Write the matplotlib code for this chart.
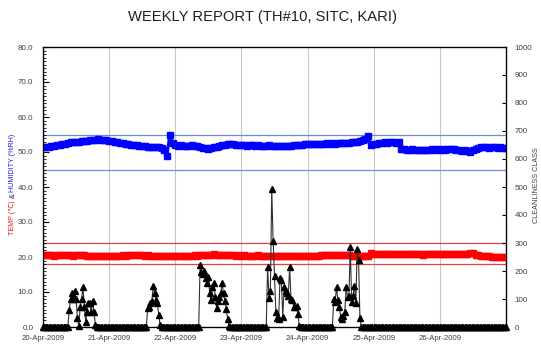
import numpy as np
import matplotlib
matplotlib.use("Agg")
import matplotlib.pyplot as plt
from matplotlib.ticker import MultipleLocator, FormatStrFormatter

plt.rcParams['font.family'] = ['Liberation Sans', 'DejaVu Sans']

# ---------------- data ----------------
title = "WEEKLY REPORT (TH#10, SITC, KARI)"
date_labels = ["20-Apr-2009", "21-Apr-2009", "22-Apr-2009", "23-Apr-2009",
               "24-Apr-2009", "25-Apr-2009", "26-Apr-2009"]

# hourly humidity (%RH), hours 0..168 from 20-Apr 00:00
humidity = [
    51.3, 51.4, 51.4, 51.6, 51.7, 51.9, 52.0, 52.2, 52.4, 52.6,
    52.9, 52.8, 53.0, 53.0, 53.1, 53.1, 53.2, 53.3, 53.4, 53.4,
    53.6, 53.5, 53.4, 53.3, 53.2, 53.1, 52.9, 52.8, 52.6, 52.5,
    52.3, 52.2, 52.1, 52.0, 51.9, 51.8, 51.6, 51.6, 51.5, 51.5,
    51.4, 51.3, 51.3, 51.2, 50.6, 49.0, 54.9, 52.6,
    51.9, 51.8, 51.9, 51.8, 51.7, 51.8, 51.9, 51.8, 51.6, 51.4, 51.2, 51.1,
    51.0, 51.1, 51.3, 51.5, 51.7, 51.9, 52.0, 52.2, 52.3, 52.2,
    52.1, 52.0, 51.9, 52.0, 51.8, 51.9, 52.1, 51.8, 51.9, 51.8,
    51.7, 51.8, 51.9, 51.7, 51.8, 51.6, 51.8, 51.7, 51.6, 51.7,
    51.8, 51.9, 52.0, 52.1, 52.1, 52.2, 52.3, 52.3, 52.2, 52.3,
    52.4, 52.3, 52.4, 52.5, 52.4, 52.5, 52.4, 52.6, 52.5, 52.5,
    52.5, 52.7, 52.8, 52.9, 53.0, 53.2, 53.4, 53.6, 54.6, 52.0,
    52.3, 52.4, 52.7, 52.6, 52.8, 52.7, 52.9, 52.8, 52.7, 52.8,
    50.8, 50.9, 50.7, 50.6, 50.8, 50.6, 50.5, 50.7, 50.6, 50.5,
    50.6, 50.8, 50.7, 50.9, 50.6, 50.8, 50.7, 50.9, 51.0, 50.8,
    50.7, 50.5, 50.4, 50.6, 50.3, 50.1, 50.5, 50.9, 51.2, 51.5,
    51.3, 51.4, 51.2, 51.5, 51.3, 51.2, 51.4, 51.1, 51.2,
]

# hourly temperature (deg C), hours 0..168
temperature = [
    20.6, 20.5, 20.6, 20.5, 20.4, 20.5, 20.6, 20.5, 20.5, 20.6, 20.5, 20.4,
    20.5, 20.5, 20.6, 20.5, 20.4, 20.3, 20.4, 20.3, 20.4, 20.3, 20.3, 20.4,
    20.3, 20.3, 20.4, 20.3, 20.4, 20.5, 20.4, 20.5, 20.6, 20.5, 20.6, 20.5,
    20.5, 20.4, 20.5, 20.4, 20.3, 20.4, 20.3, 20.4, 20.3, 20.3, 20.4, 20.3,
    20.3, 20.2, 20.3, 20.3, 20.4, 20.3, 20.4, 20.5, 20.4, 20.5, 20.6, 20.7,
    20.6, 20.7, 20.8, 20.7, 20.6, 20.7, 20.6, 20.5, 20.6, 20.5, 20.4, 20.5,
    20.4, 20.5, 20.4, 20.3, 20.4, 20.4, 20.5, 20.4, 20.3, 20.4, 20.3, 20.3,
    20.2, 20.3, 20.3, 20.2, 20.3, 20.2, 20.3, 20.3, 20.2, 20.3, 20.2, 20.3,
    20.2, 20.3, 20.3, 20.4, 20.4, 20.5, 20.5, 20.6, 20.5, 20.6, 20.6, 20.5,
    20.6, 20.6, 20.5, 20.5, 20.4, 20.4, 20.3, 20.3, 20.2, 20.3, 20.4, 21.1,
    20.8, 20.8, 20.9, 20.8, 20.9, 20.8, 20.8, 20.9, 20.8, 20.8, 20.9, 20.8,
    20.8, 20.9, 20.8, 20.8, 20.9, 20.8, 20.7, 20.8, 20.8, 20.9, 20.8, 20.8,
    20.8, 20.8, 20.9, 20.8, 20.8, 20.9, 21.0, 20.9, 21.0, 20.9, 21.0, 21.1,
    21.2, 20.7, 20.5, 20.4, 20.3, 20.4, 20.2, 20.1, 20.0, 20.1, 20.0, 20.1,
    20.0,
]

# cleanliness class, 30-minute samples; zero outside these bursts
burst_starts_h = [9.5, 38.0, 57.0, 81.5, 105.5]
burst_1 = [61, 99, 123, 99, 130, 99, 32, 4, 73, 99, 142, 73, 19, 55, 85, 85, 52, 94, 55, 8]
burst_2 = [67, 73, 85, 94, 146, 120, 96, 85, 43, 8]
burst_3 = [221, 195, 190, 201, 174, 156, 180, 120, 96, 142, 156, 108, 67, 94, 108,
           120, 156, 120, 94, 65, 27, 4]
burst_4 = [215, 105, 130, 492, 308, 182, 55, 31, 28, 174, 168, 37, 142, 130, 120,
           112, 213, 100, 96, 70, 72, 75, 46, 4]
burst_5 = [100, 90, 142, 96, 70, 37, 28, 40, 52, 144, 108, 110, 287, 90, 112, 148,
           85, 277, 239, 31]
bursts = [burst_1, burst_2, burst_3, burst_4, burst_5]

hum_limits = [45.0, 55.0]
temp_limits = [18.0, 24.0]

# ---------------- build series ----------------
t_hourly = np.arange(len(humidity)) / 24.0
t_temp = np.arange(len(temperature)) / 24.0
clean_t = np.arange(0, 168.5, 0.5)
clean = np.zeros(len(clean_t))
for s, b in zip(burst_starts_h, bursts):
    i0 = int(round(s * 2))
    clean[i0:i0 + len(b)] = b
clean_days = clean_t / 24.0

# ---------------- figure ----------------
W, H = 541, 350
fig = plt.figure(figsize=(W / 100, H / 100), dpi=100)
ax = fig.add_axes([43 / W, 1 - 327 / H, 463 / W, 280 / H])

for d in range(1, 7):
    ax.axvline(d, color='#c8c8c8', lw=0.8, zorder=0)
for v in hum_limits:
    ax.axhline(v, color='#6b8fd8', lw=0.9, zorder=1)
for v in temp_limits:
    ax.axhline(v, color='#e84040', lw=0.9, zorder=1)

ax.plot(t_hourly, humidity, color='#0000ff', lw=2.2, marker='s', ms=4.0,
        mec='#0000ff', mfc='#0000ff', zorder=3)
ax.plot(t_temp, temperature, color='#ff0000', lw=2.2, marker='s', ms=4.0,
        mec='#ff0000', mfc='#ff0000', zorder=3)

ax.set_xlim(0, 7)
ax.set_ylim(0, 80)
ax.set_xticks(range(len(date_labels)))
ax.set_xticklabels(date_labels)
ax.yaxis.set_major_locator(MultipleLocator(10))
ax.yaxis.set_minor_locator(MultipleLocator(1))
ax.yaxis.set_major_formatter(FormatStrFormatter('%.1f'))
ax.tick_params(axis='y', which='major', direction='in', length=4, width=0.8,
               labelsize=5.8, labelcolor='#404040', pad=7)
ax.tick_params(axis='y', which='minor', direction='in', length=2, width=0.6)
ax.tick_params(axis='x', which='major', length=0, labelsize=5.6,
               labelcolor='#404040', pad=6)
for sp in ax.spines.values():
    sp.set_linewidth(0.9)

ax2 = ax.twinx()
ax2.plot(clean_days, clean, color='#303030', lw=0.8, marker='^', ms=3.8,
         mec='black', mfc='black', clip_on=False, zorder=4)
ax2.set_ylim(0, 1000)
ax2.yaxis.set_major_locator(MultipleLocator(100))
ax2.tick_params(axis='y', direction='in', length=3, width=0.8, labelsize=5.8,
                labelcolor='#404040', pad=6)
ax2.set_xlim(0, 7)
fig.text(536 / W, 1 - 185 / H, "CLEANLINESS CLASS", rotation=90, ha='center',
         va='center', fontsize=5.2, color='#404040')

fig.text(263 / W, 1 - 17 / H, title, ha='center', va='center', fontsize=10.6,
         color='#202020')

# multi-colour rotated left label, stacked bottom-to-top
pieces = [("TEMP (\u2103)", '#e02020'), ("&", '#303030'), ("HUMIDITY (%RH)", '#2020e0')]
fig.canvas.draw()
renderer = fig.canvas.get_renderer()
y_px = 235.0
for txt, col in pieces:
    t = fig.text(13 / W, 1 - y_px / H, txt, rotation=90, ha='center', va='bottom',
                 fontsize=5.1, color=col)
    bb = t.get_window_extent(renderer)
    y_px -= bb.height + 2.0

fig.savefig("out.png", dpi=100)
